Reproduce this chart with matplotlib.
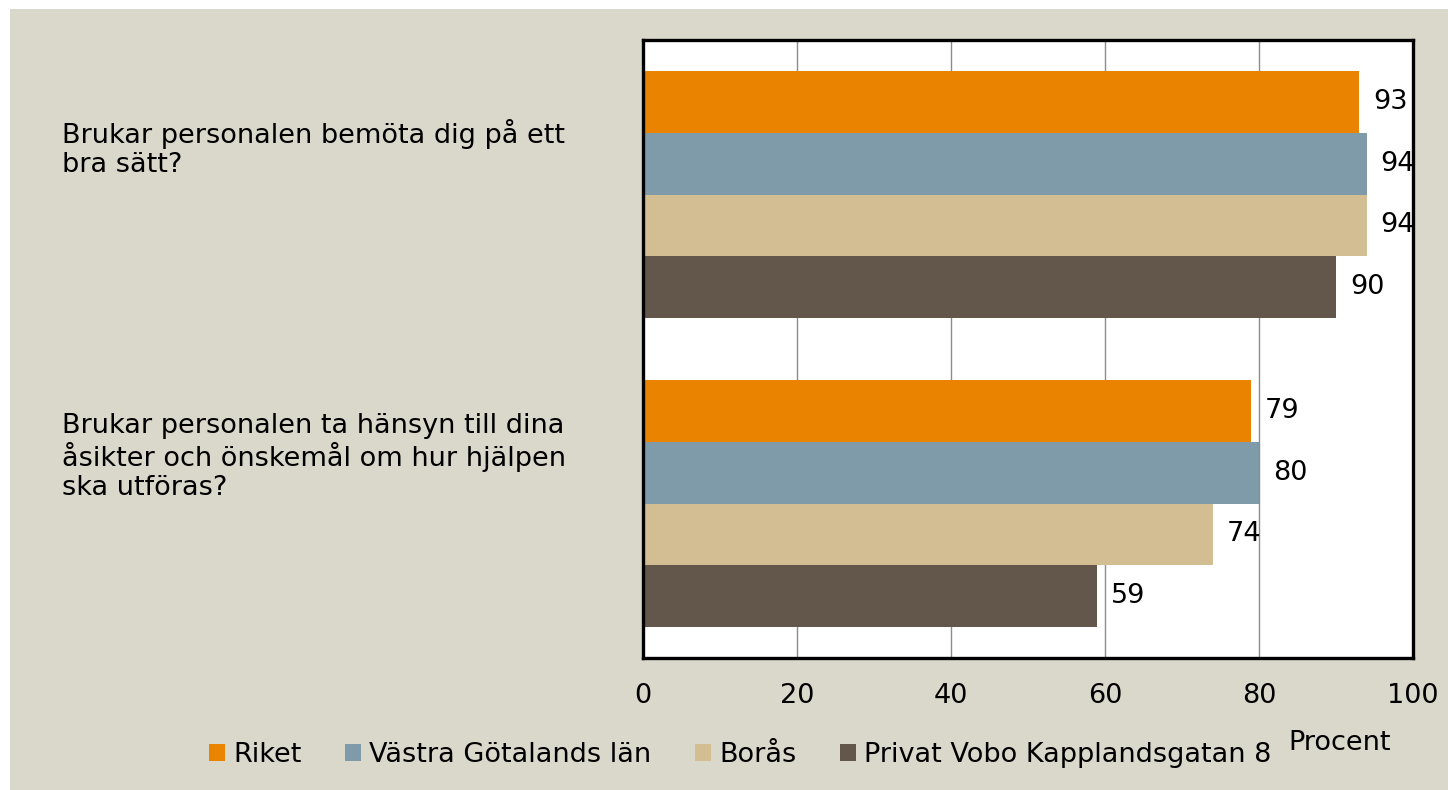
import matplotlib.pyplot as plt
import matplotlib.transforms as mtransforms
from matplotlib.patches import Rectangle
import numpy as np

plt.rcParams['font.family'] = ['DejaVu Sans']

questions = [
    "Brukar personalen bemöta dig på ett\nbra sätt?",
    "Brukar personalen ta hänsyn till dina\nåsikter och önskemål om hur hjälpen\nska utföras?",
]
series_names = ["Riket", "Västra Götalands län", "Borås", "Privat Vobo Kapplandsgatan 8"]
riket = [93, 79]
vastra = [94, 80]
boras = [94, 74]
privat = [90, 59]
colors = ["#E98300", "#7F9BAA", "#D3BD92", "#63564B"]
xticks = [0, 20, 40, 60, 80, 100]

fs = 19.5

fig = plt.figure(figsize=(14.48, 7.9), dpi=100, facecolor="white")
fig.patches.append(Rectangle((10 / 1448, 0), 1, 1 - 9 / 790, transform=fig.transFigure,
                             facecolor="#DAD7CB", edgecolor="none", zorder=-5))

ax = fig.add_axes([643 / 1448, 1 - 658 / 790, 770 / 1448, 618 / 790])
ax.set_zorder(2)
ax.set_facecolor("white")

y = np.arange(len(questions))
h = 0.2
offsets = [-0.3, -0.1, 0.1, 0.3]
handles = []
for vals, name, col, off in zip([riket, vastra, boras, privat], series_names, colors, offsets):
    b = ax.barh(y + off, vals, height=h, color=col, label=name, zorder=2)
    handles.append(b)
    for yi, v in zip(y + off, vals):
        ax.text(v + 1.8, yi, str(v), va="center", ha="left", fontsize=fs, zorder=3)

ax.set_xlim(0, 100)
ax.set_ylim(1.5, -0.5)
ax.set_xticks(xticks)
ax.set_xticklabels([str(t) for t in xticks], fontsize=fs)
ax.set_yticks([])
ax.tick_params(axis="x", length=0, pad=18)
ax.xaxis.grid(True, color="#8C8C8C", linewidth=1, zorder=1)
ax.set_axisbelow(True)
for s in ax.spines.values():
    s.set_linewidth(2.4)
    s.set_color("black")

trans = mtransforms.blended_transform_factory(fig.transFigure, ax.transData)
for yi, q in zip(y, questions):
    fig.text(62 / 1448, 0, q, transform=trans, ha="left", va="center",
             fontsize=fs, linespacing=1.15).set_y(yi - 0.15)

fig.text(1340 / 1448, 1 - 743 / 790, "Procent", ha="center", va="center", fontsize=fs)

fig.legend(handles=handles, labels=series_names, loc="center", ncol=4,
           bbox_to_anchor=(740 / 1448, 1 - 755 / 790), frameon=False, fontsize=fs,
           handlelength=0.6, handleheight=0.6, handletextpad=0.3, columnspacing=1.6)

fig.savefig("out.png", dpi=100, facecolor=fig.get_facecolor())
